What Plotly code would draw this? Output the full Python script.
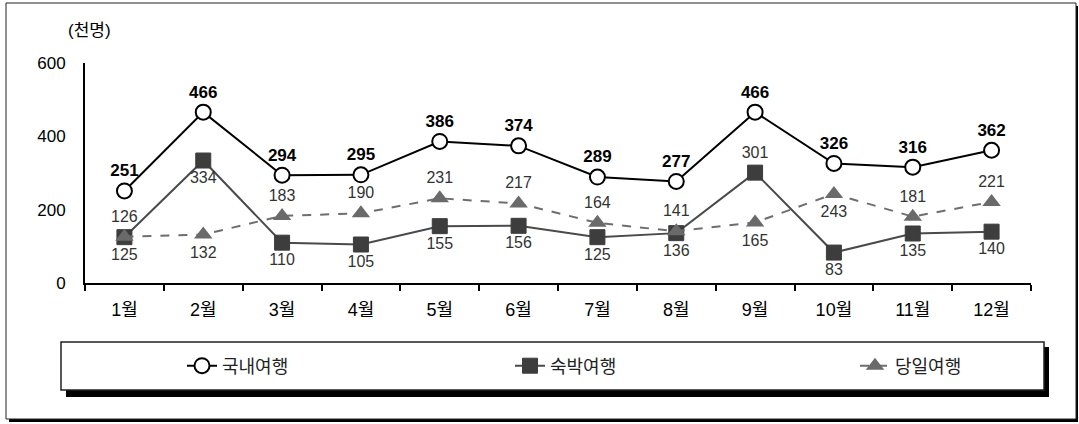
import plotly.graph_objects as go

months = ["1월", "2월", "3월", "4월", "5월", "6월", "7월", "8월", "9월", "10월", "11월", "12월"]
domestic = [251, 466, 294, 295, 386, 374, 289, 277, 466, 326, 316, 362]
overnight = [125, 334, 110, 105, 155, 156, 125, 136, 301, 83, 135, 140]
daytrip = [126, 132, 183, 190, 231, 217, 164, 141, 165, 243, 181, 221]
overnight_pos = ["bottom center"] * 8 + ["top center"] + ["bottom center"] * 3
daytrip_pos = ["top center", "bottom center", "top center", "top center", "top center",
               "top center", "top center", "top center", "bottom center", "bottom center",
               "top center", "top center"]
yticks = [0, 200, 400, 600]

W, H = 1079, 424
L, R, T, B = 85, 48, 63, 141
PW, PH = W - L - R, H - T - B


def px(x):
    return (x - L) / PW


def py(y):
    return (H - B - y) / PH


FONT = "Liberation Sans, Noto Sans CJK KR, sans-serif"

fig = go.Figure()
fig.add_trace(go.Scatter(
    x=months, y=overnight, name="숙박여행", mode="lines+markers+text", legend="legend2",
    line=dict(color="#4a4a4a", width=2),
    marker=dict(symbol="square", size=15, color="#3d3d3d", line=dict(color="#3d3d3d", width=1)),
    text=[str(v) for v in overnight], textposition=overnight_pos,
    textfont=dict(size=16, color="#333333", family=FONT),
))
fig.add_trace(go.Scatter(
    x=months, y=daytrip, name="당일여행", mode="lines+markers+text", legend="legend3",
    line=dict(color="#6e6e6e", width=2, dash="dash"),
    marker=dict(symbol="triangle-up", size=16, color="#6a6a6a"),
    text=[str(v) for v in daytrip], textposition=daytrip_pos,
    textfont=dict(size=16, color="#333333", family=FONT),
))
fig.add_trace(go.Scatter(
    x=months, y=domestic, name="국내여행", mode="lines+markers+text", legend="legend",
    line=dict(color="black", width=2),
    marker=dict(symbol="circle", size=15, color="white", line=dict(color="black", width=2)),
    text=["<b>%d</b>" % v for v in domestic], textposition="top center",
    textfont=dict(size=17, color="black", family=FONT),
))

shapes = [
    dict(type="rect", xref="paper", yref="paper", x0=px(9), x1=px(1078), y0=py(422), y1=py(6),
         fillcolor="black", line=dict(width=0), layer="below"),
    dict(type="rect", xref="paper", yref="paper", x0=px(6), x1=px(1076), y0=py(419), y1=py(3),
         fillcolor="white", line=dict(color="#222222", width=1), layer="below"),
    dict(type="rect", xref="paper", yref="paper", x0=px(66), x1=px(1049), y0=py(397), y1=py(347),
         fillcolor="black", line=dict(width=0), layer="below"),
    dict(type="rect", xref="paper", yref="paper", x0=px(61), x1=px(1044), y0=py(390), y1=py(342),
         fillcolor="white", line=dict(color="#222222", width=1.5), layer="below"),
]


def leg(text_x):
    return dict(
        orientation="h", x=px(text_x - 40), y=py(366), xanchor="left", yanchor="middle",
        bgcolor="rgba(0,0,0,0)", borderwidth=0,
        font=dict(size=18, family=FONT, color="#222222"), itemclick=False,
    )


fig.update_layout(
    width=W, height=H,
    margin=dict(l=L, r=R, t=T, b=B),
    paper_bgcolor="white", plot_bgcolor="rgba(0,0,0,0)",
    font=dict(family=FONT, size=16, color="black"),
    showlegend=True,
    legend=leg(222), legend2=leg(550), legend3=leg(895),
    shapes=shapes,
    annotations=[dict(text="(천명)", xref="paper", yref="paper", x=px(66), y=py(30),
                      xanchor="left", yanchor="middle", showarrow=False,
                      font=dict(size=17, family=FONT, color="black"))],
)

fig.update_xaxes(
    type="category", range=[-0.5, len(months) - 0.5], showline=True, linecolor="black", linewidth=2,
    ticks="outside", tickson="boundaries", ticklen=6, tickcolor="black", tickwidth=1.5,
    showgrid=False, zeroline=False, tickfont=dict(size=18, family=FONT),
    ticklabelstandoff=9,
)
fig.update_yaxes(
    range=[0, 600], tickvals=yticks, showline=True, linecolor="black", linewidth=2,
    ticks="", showgrid=False, zeroline=False, tickfont=dict(size=17, family=FONT),
    ticklabelstandoff=14,
)

fig.write_html("out.html", config={"displayModeBar": False},
               post_script="document.body.style.margin='0';")
